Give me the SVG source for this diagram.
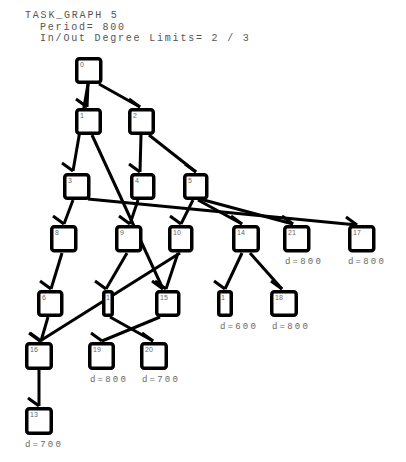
<svg xmlns="http://www.w3.org/2000/svg" width="406" height="462" viewBox="0 0 406 462">
<style>
.box{fill:#fff;stroke:#000;stroke-width:3.5}
.e{fill:none;stroke:#000;stroke-width:3;marker-end:url(#barb)}
.hd{font-family:"Liberation Mono",monospace;font-size:10px;letter-spacing:1.8px;fill:#555}
.nl{font-family:"Liberation Sans",sans-serif;font-size:7px;fill:#666}
.dl{font-family:"Liberation Mono",monospace;font-size:9px;letter-spacing:2.2px;fill:#666}
</style>
<defs>
<marker id="barb" markerUnits="userSpaceOnUse" orient="0" refX="0" refY="0" markerWidth="1" markerHeight="1" overflow="visible">
<path d="M0,0 L-11,-8" stroke="#000" stroke-width="3" fill="none"/>
</marker>
</defs>
<g id="header">
<text class="hd" x="25" y="18">TASK_GRAPH 5</text>
<text class="hd" x="40" y="29.5">Period= 800</text>
<text class="hd" x="40" y="41">In/Out Degree Limits= 2 / 3</text>
</g>
<g id="edges">
<line class="e" x1="88" y1="84" x2="87" y2="107"/>
<line class="e" x1="88" y1="84" x2="73" y2="171"/>
<line class="e" x1="99" y1="84" x2="140" y2="107"/>
<line class="e" x1="92" y1="135" x2="163" y2="289"/>
<line class="e" x1="141" y1="135" x2="140" y2="172"/>
<line class="e" x1="149" y1="135" x2="196" y2="172"/>
<line class="e" x1="73" y1="200" x2="64" y2="224"/>
<line class="e" x1="88" y1="199" x2="357" y2="225"/>
<line class="e" x1="138" y1="200" x2="130" y2="224"/>
<line class="e" x1="193" y1="200" x2="181" y2="224"/>
<line class="e" x1="198" y1="200" x2="242" y2="224"/>
<line class="e" x1="200" y1="199" x2="293" y2="224"/>
<line class="e" x1="62" y1="253" x2="51" y2="289"/>
<line class="e" x1="127" y1="253" x2="106" y2="289"/>
<line class="e" x1="178" y1="253" x2="166" y2="289"/>
<line class="e" x1="180" y1="253" x2="40" y2="341"/>
<line class="e" x1="242" y1="253" x2="225" y2="289"/>
<line class="e" x1="250" y1="253" x2="282" y2="289"/>
<line class="e" x1="48" y1="317" x2="41" y2="341"/>
<line class="e" x1="110" y1="317" x2="153" y2="341"/>
<line class="e" x1="160" y1="317" x2="102" y2="341"/>
<line class="e" x1="39" y1="370" x2="39" y2="406"/>
</g>
<g id="n0"><rect class="box" x="76.75" y="58.75" width="24" height="23.5" rx="2.5"/><text class="nl" x="80" y="67">0</text></g>
<g id="n1"><rect class="box" x="76.75" y="109.75" width="23.5" height="23.5" rx="2.5"/><text class="nl" x="80" y="118">1</text></g>
<g id="n2"><rect class="box" x="129.75" y="109.75" width="23.5" height="23.5" rx="2.5"/><text class="nl" x="133" y="118">2</text></g>
<g id="n3"><rect class="box" x="64.75" y="174.75" width="24" height="23.5" rx="2.5"/><text class="nl" x="68" y="183">3</text></g>
<g id="n4"><rect class="box" x="131.75" y="174.75" width="22" height="23.5" rx="2.5"/><text class="nl" x="135" y="183">4</text></g>
<g id="n5"><rect class="box" x="184.75" y="174.75" width="22" height="23.5" rx="2.5"/><text class="nl" x="188" y="183">5</text></g>
<g id="n6"><rect class="box" x="51.75" y="226.75" width="24" height="24" rx="2.5"/><text class="nl" x="55" y="235">8</text></g>
<g id="n7"><rect class="box" x="116.75" y="226.75" width="24" height="24" rx="2.5"/><text class="nl" x="120" y="235">9</text></g>
<g id="n8"><rect class="box" x="169.75" y="226.75" width="22" height="24" rx="2.5"/><text class="nl" x="173" y="235">10</text></g>
<g id="n9"><rect class="box" x="233.75" y="226.75" width="24.5" height="24" rx="2.5"/><text class="nl" x="237" y="235">14</text></g>
<g id="n10"><rect class="box" x="284.75" y="226.75" width="24" height="24" rx="2.5"/><text class="nl" x="288" y="235">21</text></g>
<g id="n11"><rect class="box" x="349.75" y="226.75" width="24" height="24" rx="2.5"/><text class="nl" x="353" y="235">17</text></g>
<g id="n12"><rect class="box" x="38.75" y="291.75" width="23" height="23.5" rx="2.5"/><text class="nl" x="42" y="300">6</text></g>
<g id="n13"><rect class="box" x="103.75" y="291.75" width="8.5" height="23.5" rx="2"/><text class="nl" x="106" y="300">1</text></g>
<g id="n14"><rect class="box" x="156.75" y="291.75" width="22" height="23.5" rx="2.5"/><text class="nl" x="160" y="300">15</text></g>
<g id="n15"><rect class="box" x="218.75" y="291.75" width="12.5" height="23.5" rx="2"/><text class="nl" x="221" y="300">1</text></g>
<g id="n16"><rect class="box" x="271.75" y="291.75" width="24.5" height="23.5" rx="2.5"/><text class="nl" x="275" y="300">18</text></g>
<g id="n17"><rect class="box" x="26.75" y="343.75" width="24.5" height="24.5" rx="2.5"/><text class="nl" x="30" y="352">16</text></g>
<g id="n18"><rect class="box" x="89.75" y="343.75" width="23.5" height="24.5" rx="2.5"/><text class="nl" x="93" y="352">19</text></g>
<g id="n19"><rect class="box" x="141.75" y="343.75" width="24.5" height="24.5" rx="2.5"/><text class="nl" x="145" y="352">20</text></g>
<g id="n20"><rect class="box" x="26.75" y="408.75" width="24.5" height="24.5" rx="2.5"/><text class="nl" x="30" y="417">13</text></g>
<g id="deadlines">
<text class="dl" x="285" y="264">d=800</text>
<text class="dl" x="348" y="264">d=800</text>
<text class="dl" x="220" y="329">d=600</text>
<text class="dl" x="272" y="329">d=800</text>
<text class="dl" x="90" y="382">d=800</text>
<text class="dl" x="142" y="382">d=700</text>
<text class="dl" x="25" y="447">d=700</text>
</g>
</svg>
